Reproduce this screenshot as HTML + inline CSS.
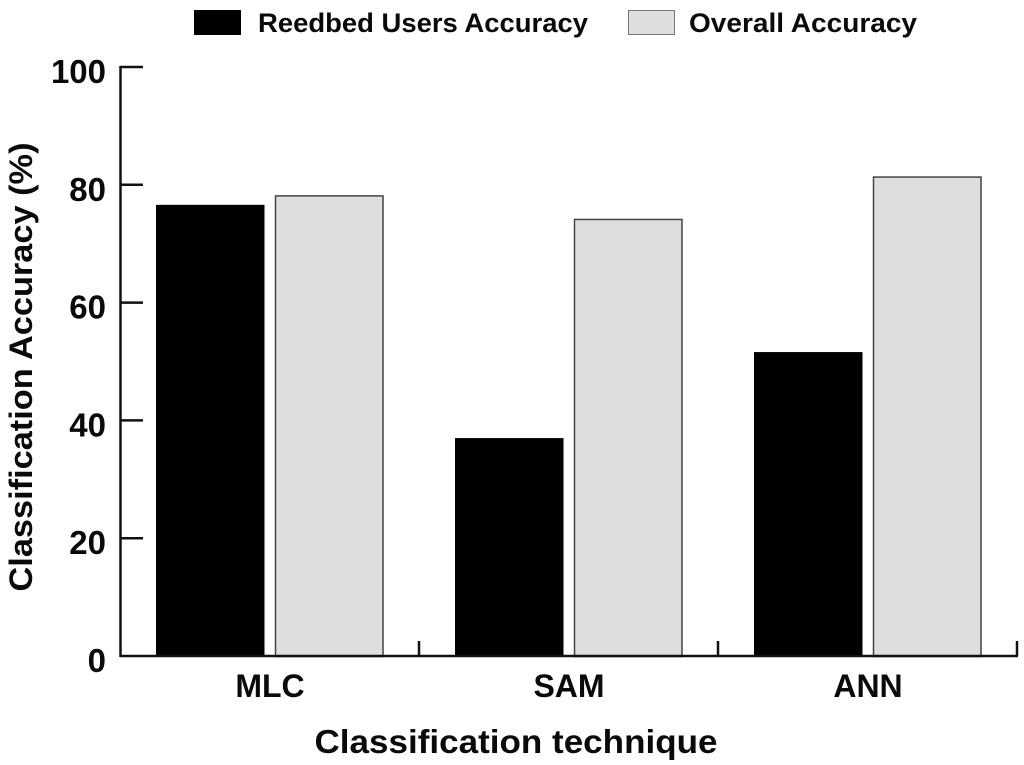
<!DOCTYPE html>
<html lang="en">
<head>
<meta charset="utf-8">
<title>Classification Accuracy</title>
<style>
html,body{margin:0;padding:0;background:#fff;width:1024px;height:765px;overflow:hidden}
svg{display:block}
text{font-family:"Liberation Sans",sans-serif;font-weight:bold;fill:#0a0a0a}
</style>
</head>
<body>
<svg id="chart" width="1024" height="765" viewBox="0 0 1024 765" xmlns="http://www.w3.org/2000/svg">
  <g id="bars"></g>
  <g id="axes"></g>
  <text transform="translate(32,367) rotate(-90)" text-anchor="middle" font-size="32" textLength="449" lengthAdjust="spacingAndGlyphs">Classification Accuracy (%)</text>
  <text x="516" y="753" text-anchor="middle" font-size="33" textLength="403" lengthAdjust="spacingAndGlyphs">Classification technique</text>
  <g>
    <rect x="194" y="10" width="47" height="25" fill="#000"/>
    <text x="258" y="32" font-size="27" textLength="330" lengthAdjust="spacingAndGlyphs">Reedbed Users Accuracy</text>
    <rect x="628.5" y="10.5" width="46" height="24" fill="#dedede" stroke="#777" stroke-width="1"/>
    <text x="689" y="32" font-size="27" textLength="228" lengthAdjust="spacingAndGlyphs">Overall Accuracy</text>
  </g>
</svg>
<script>
var categories = ['MLC', 'SAM', 'ANN'];
var reedbedUsers = [76.6, 37.0, 51.6];
var overall = [78.2, 74.2, 81.4];
var yTicks = [0, 20, 40, 60, 80, 100];

var NS = 'http://www.w3.org/2000/svg';
var barsLayer = document.getElementById('bars');
var axesLayer = document.getElementById('axes');

function yScale(v) { return 656 - v * 5.89; }
function groupLeft(i) { return 120 + i * 299; }

function make(tag, attrs, parent) {
  var el = document.createElementNS(NS, tag);
  for (var k in attrs) { el.setAttribute(k, attrs[k]); }
  parent.appendChild(el);
  return el;
}

categories.forEach(function (cat, i) {
  var left = groupLeft(i);
  var black = make('rect', {
    x: left + 36, y: yScale(reedbedUsers[i]), width: 108.5,
    height: yScale(0) - yScale(reedbedUsers[i]), fill: '#000'
  }, barsLayer);
  
  

  var grey = make('rect', {
    x: left + 155.5, y: yScale(overall[i]) + 0.5, width: 107.5,
    height: yScale(0) - yScale(overall[i]), fill: '#dedede',
    stroke: '#444', 'stroke-width': 1.5
  }, barsLayer);
  
  

  var label = make('text', {
    x: left + 150, y: 697, 'text-anchor': 'middle', 'font-size': 32
  }, axesLayer);
  
  
  label.textContent = cat;

  var tick = make('line', {
    x1: left + 299, x2: left + 299, y1: 641, y2: 656,
    stroke: '#111', 'stroke-width': 2.5
  }, axesLayer);
  
  
});

yTicks.forEach(function (t) {
  var y = yScale(t);
  if (t > 0) {
    var tick = make('line', {
      x1: 120, x2: 143, y1: y, y2: y, stroke: '#111', 'stroke-width': 2.5
    }, axesLayer);
    
    
  }
  var label = make('text', {
    x: 106, y: y + 16, 'text-anchor': 'end', 'font-size': 33
  }, axesLayer);
  
  
  label.textContent = t;
});

var yAxis = make('line', {
  x1: 120.5, x2: 120.5, y1: yScale(100) - 1, y2: 657, stroke: '#111', 'stroke-width': 2.5
}, axesLayer);



var xAxis = make('line', {
  x1: 120, x2: groupLeft(categories.length) + 1, y1: 656, y2: 656, stroke: '#111', 'stroke-width': 2.5
}, axesLayer);


</script>
</body>
</html>
